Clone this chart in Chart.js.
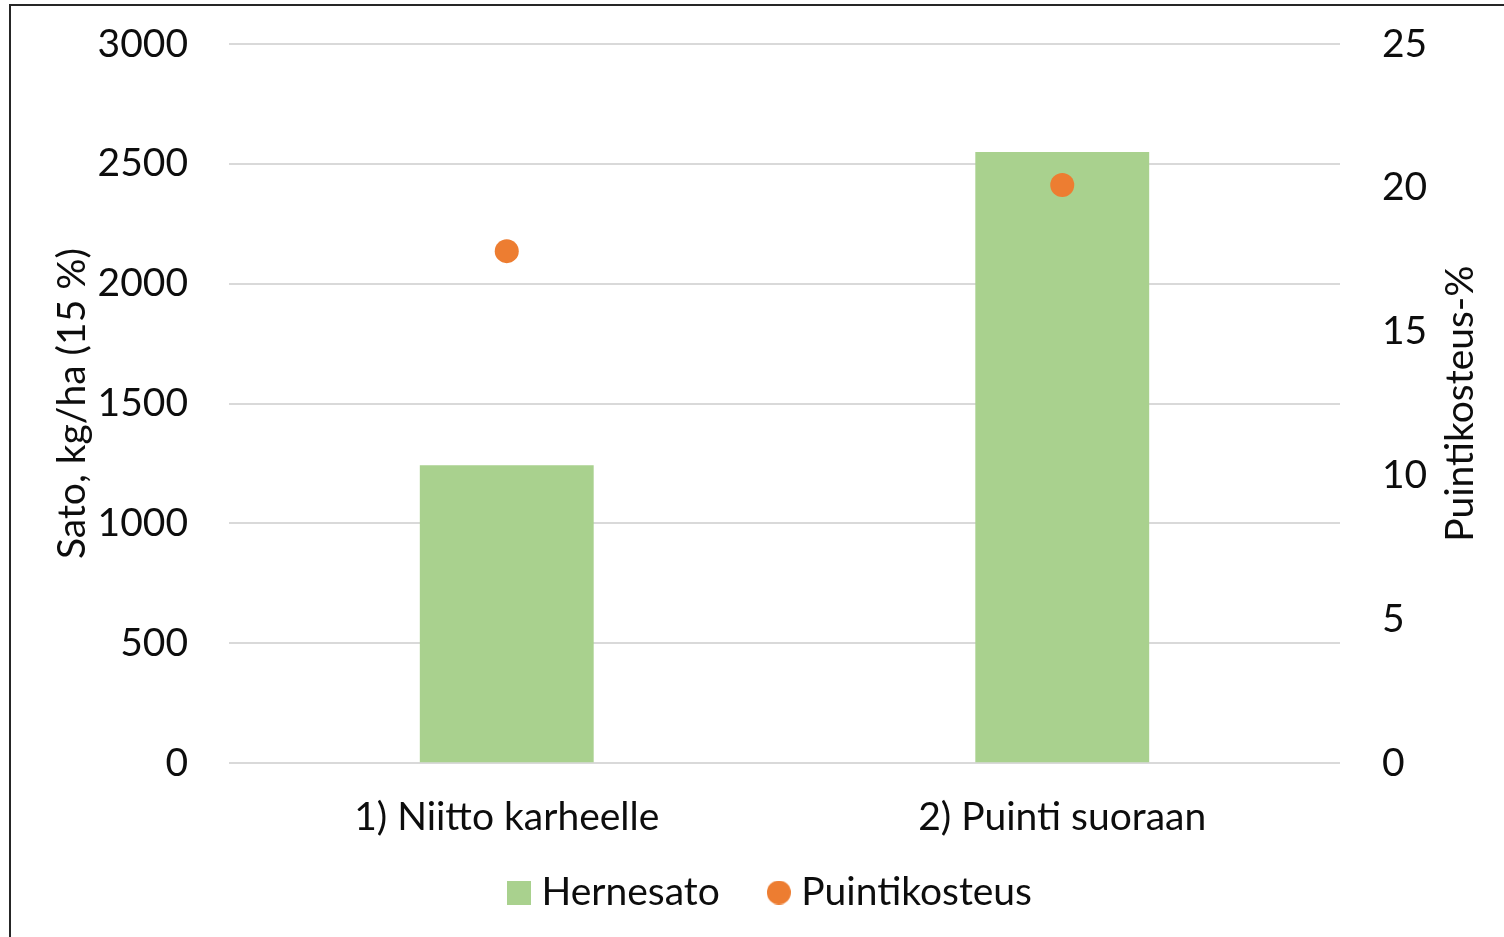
<!DOCTYPE html>
<html>
<head>
<meta charset="utf-8">
<script src="https://cdn.jsdelivr.net/npm/chart.js"></script>
<style>
  html, body { margin: 0; padding: 0; background: #fff; overflow: hidden; }
  #wrap { position: absolute; left: 0; top: 0; width: 1504px; height: 937px; }
  #frame { position: absolute; left: 9px; top: 4px; width: 2000px; height: 2000px;
           border-left: 2px solid #262626; border-top: 2px solid #262626; pointer-events: none; }
</style>
</head>
<body>
<div id="wrap"><canvas id="myChart"></canvas></div>
<div id="frame"></div>
<script>
// data
const categories = ['1) Niitto karheelle', '2) Puinti suoraan'];
const hernesato = [1243, 2550];        // kg/ha, left axis
const puintikosteus = [17.8, 20.1];    // %, right axis
const leftTicks = [0, 500, 1000, 1500, 2000, 2500, 3000];
const rightTicks = [0, 5, 10, 15, 20, 25];
const rightTitle = 'Puintikosteus-%';

const FONT = 'Lato, "Open Sans", sans-serif';
const FS = 39;
const TXT = '#0d0d0d';

// small legend markers (square and dot of the same size)
function marker(kind, color) {
  const c = document.createElement('canvas');
  c.width = 24; c.height = 24;
  const g = c.getContext('2d');
  g.fillStyle = color;
  if (kind === 'rect') g.fillRect(0, 0, 24, 24);
  else { g.beginPath(); g.arc(12, 12, 12, 0, Math.PI * 2); g.fill(); }
  return c;
}
const legendMarks = [marker('rect', '#a9d18e'), marker('circle', '#ed7d31')];

// right axis title reads bottom-to-top like the left one
const rightTitlePlugin = {
  id: 'rightTitle',
  afterLayout(chart) {
    // pull the legend up closer to the category labels
    const lg = chart.legend;
    lg.top -= 55; lg.bottom -= 55;
    lg.left += 22; lg.right += 22;
  },
  afterDraw(chart) {
    const s = chart.scales.y1;
    const c = chart.ctx;
    c.save();
    c.translate(s.right - 44, (chart.chartArea.top + chart.chartArea.bottom) / 2);
    c.rotate(-Math.PI / 2);
    c.font = FS + 'px ' + FONT;
    c.fillStyle = TXT;
    c.textAlign = 'center';
    c.textBaseline = 'middle';
    c.fillText(rightTitle, 0, 0);
    c.restore();
  }
};

function noVertPad(scale, w) {
  scale.width = w;
  scale.paddingTop = 0;
  scale.paddingBottom = 0;
}

document.addEventListener('DOMContentLoaded', () => {
  const canvas = document.getElementById('myChart');
  if (!canvas) return;
  const ctx = canvas.getContext('2d');
  ctx.textRendering = 'optimizeSpeed';   // no "ti" ligatures

  new Chart(ctx, {
    type: 'bar',
    data: {
      labels: categories,
      datasets: [{
        label: 'Hernesato',
        data: hernesato,
        backgroundColor: '#a9d18e',
        borderWidth: 0,
        barPercentage: 0.313,
        categoryPercentage: 1,
        yAxisID: 'y',
        order: 2
      }, {
        type: 'line',
        label: 'Puintikosteus',
        data: puintikosteus,
        showLine: false,
        pointRadius: 12,
        pointHoverRadius: 12,
        pointBackgroundColor: '#ed7d31',
        pointBorderWidth: 0,
        backgroundColor: '#ed7d31',
        yAxisID: 'y1',
        order: 1
      }]
    },
    plugins: [rightTitlePlugin],
    options: {
      responsive: true,
      maintainAspectRatio: false,
      animation: false,
      devicePixelRatio: 1,
      layout: { padding: { top: 44, bottom: -40, left: 0, right: 0 } },
      plugins: {
        tooltip: { enabled: false },
        legend: {
          position: 'bottom',
          labels: {
            color: TXT,
            font: { family: FONT, size: FS },
            usePointStyle: true,
            boxWidth: 6,
            boxHeight: FS,
            padding: 56,
            sort: (a, b) => a.datasetIndex - b.datasetIndex,
            generateLabels(chart) {
              const items = Chart.defaults.plugins.legend.labels.generateLabels(chart);
              items.forEach(it => { it.pointStyle = legendMarks[it.datasetIndex]; });
              return items;
            }
          }
        }
      },
      scales: {
        x: {
          grid: { display: false, drawTicks: false },
          border: { display: false },
          ticks: { color: TXT, font: { family: FONT, size: FS }, padding: 31 }
        },
        y: {
          position: 'left',
          min: 0, max: 3000,
          afterBuildTicks(scale) { scale.ticks = leftTicks.map(v => ({ value: v })); },
          afterFit(scale) { noVertPad(scale, 229); },
          grid: { color: '#d9d9d9', lineWidth: 2, drawTicks: false },
          border: { display: false },
          ticks: { color: TXT, font: { family: FONT, size: FS }, padding: 41, callback: v => String(v) },
          title: {
            display: true, text: 'Sato, kg/ha (15 %)',
            color: TXT, font: { family: FONT, size: FS }, padding: { top: 49 }
          }
        },
        y1: {
          position: 'right',
          min: 0, max: 25,
          afterBuildTicks(scale) { scale.ticks = rightTicks.map(v => ({ value: v })); },
          afterFit(scale) { noVertPad(scale, 164); },
          grid: { display: false, drawTicks: false },
          border: { display: false },
          ticks: { color: TXT, font: { family: FONT, size: FS }, padding: 42, callback: v => String(v) }
        }
      }
    }
  });
});
</script>
</body>
</html>
